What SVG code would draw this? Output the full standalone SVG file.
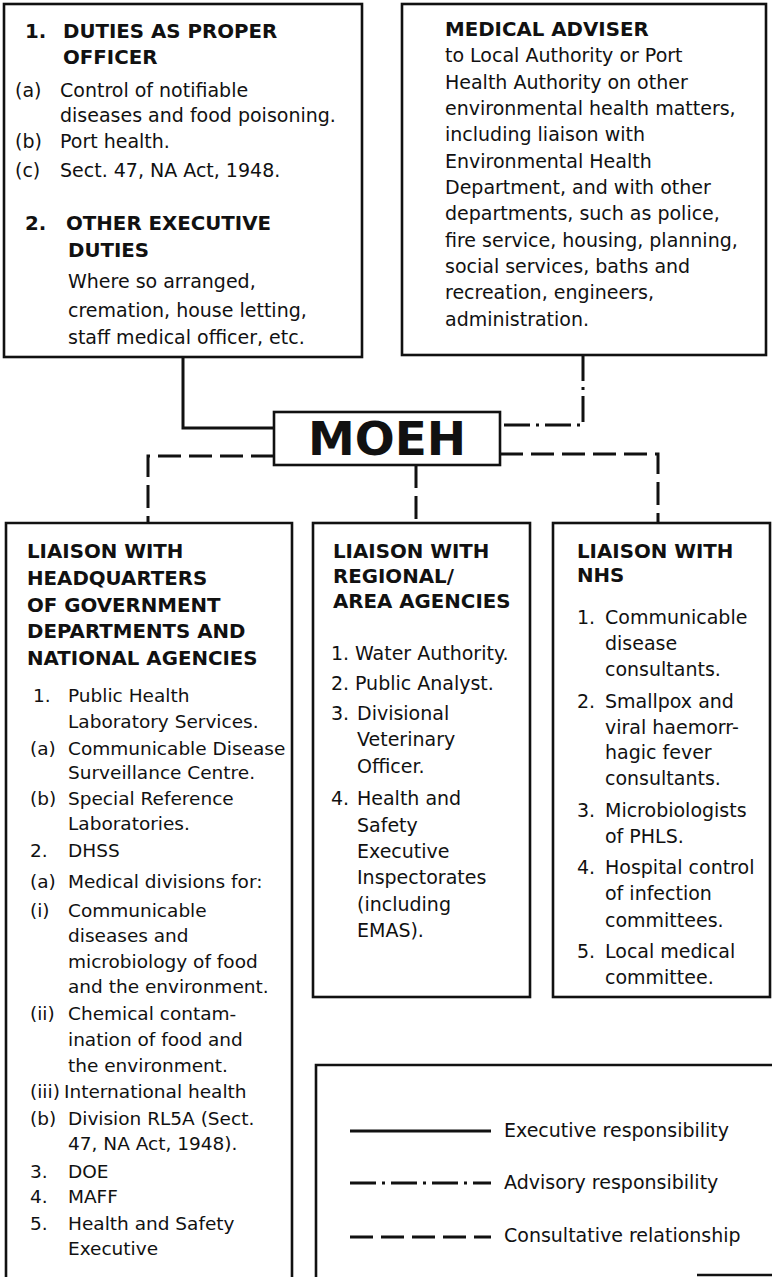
<svg xmlns="http://www.w3.org/2000/svg" width="772" height="1277" viewBox="0 0 772 1277">
<style>
.bg{fill:#fff}
.box{fill:#fff;stroke:#111;stroke-width:2.6}
.open{fill:none;stroke:#111;stroke-width:2.6}
.t{font-family:"DejaVu Sans","Liberation Sans",sans-serif;font-size:19px;fill:#111}
.tl{font-family:"DejaVu Sans","Liberation Sans",sans-serif;font-size:18.5px;fill:#111}
.b{font-family:"DejaVu Sans","Liberation Sans",sans-serif;font-size:19.8px;font-weight:bold;fill:#111}
.big{font-family:"DejaVu Sans","Liberation Sans",sans-serif;font-size:47px;font-weight:bold;fill:#111;text-anchor:middle}
.solid{fill:none;stroke:#111;stroke-width:3}
.dashdot{fill:none;stroke:#111;stroke-width:3;stroke-dasharray:26 6 3 6}
.dashed{fill:none;stroke:#111;stroke-width:3;stroke-dasharray:23 8}
</style>
<rect class="bg" x="0" y="0" width="772" height="1277"/>

<g id="connectors">
<path class="solid" d="M183,357 V428 H274"/>
<path class="dashdot" d="M583,355 V425 H500"/>
<path class="dashed" d="M274,456 H148 V523"/>
<path class="dashed" d="M416,465 V523"/>
<path class="dashed" d="M500,454 H658 V523"/>
</g>

<g id="node-duties">
<rect class="box" x="4" y="4" width="358" height="353"/>
<text class="b" x="25" y="38">1.</text><text class="b" x="63" y="38">DUTIES AS PROPER</text>
<text class="b" x="63" y="64">OFFICER</text>
<text class="t" x="15" y="97">(a)</text><text class="t" x="60" y="97">Control of notifiable</text>
<text class="t" x="60" y="122">diseases and food poisoning.</text>
<text class="t" x="15" y="148">(b)</text><text class="t" x="60" y="148">Port health.</text>
<text class="t" x="15" y="177">(c)</text><text class="t" x="60" y="177">Sect. 47, NA Act, 1948.</text>
<text class="b" x="25" y="230">2.</text><text class="b" x="66" y="230">OTHER EXECUTIVE</text>
<text class="b" x="68" y="257">DUTIES</text>
<text class="t" x="68" y="288">Where so arranged,</text>
<text class="t" x="68" y="317">cremation, house letting,</text>
<text class="t" x="68" y="344">staff medical officer, etc.</text>
</g>

<g id="node-adviser">
<rect class="box" x="402" y="4" width="364" height="351"/>
<text class="b" x="445" y="36">MEDICAL ADVISER</text>
<text class="t" x="445" y="62">to Local Authority or Port</text>
<text class="t" x="445" y="89">Health Authority on other</text>
<text class="t" x="445" y="115">environmental health matters,</text>
<text class="t" x="445" y="141">including liaison with</text>
<text class="t" x="445" y="168">Environmental Health</text>
<text class="t" x="445" y="194">Department, and with other</text>
<text class="t" x="445" y="220">departments, such as police,</text>
<text class="t" x="445" y="247">fire service, housing, planning,</text>
<text class="t" x="445" y="273">social services, baths and</text>
<text class="t" x="445" y="299">recreation, engineers,</text>
<text class="t" x="445" y="326">administration.</text>
</g>

<g id="node-moeh">
<rect class="box" x="274" y="412" width="226" height="53"/>
<text class="big" x="387" y="455">MOEH</text>
</g>

<g id="node-hq">
<path class="open" d="M6,1277 V523 H292 V1277"/>
<text class="b" x="27" y="558">LIAISON WITH</text>
<text class="b" x="27" y="585">HEADQUARTERS</text>
<text class="b" x="27" y="612">OF GOVERNMENT</text>
<text class="b" x="27" y="638">DEPARTMENTS AND</text>
<text class="b" x="27" y="665">NATIONAL AGENCIES</text>
<text class="tl" x="33" y="702">1.</text><text class="tl" x="68" y="702">Public Health</text>
<text class="tl" x="68" y="728">Laboratory Services.</text>
<text class="tl" x="30" y="755">(a)</text><text class="tl" x="68" y="755">Communicable Disease</text>
<text class="tl" x="68" y="779">Surveillance Centre.</text>
<text class="tl" x="30" y="805">(b)</text><text class="tl" x="68" y="805">Special Reference</text>
<text class="tl" x="68" y="830">Laboratories.</text>
<text class="tl" x="30" y="857">2.</text><text class="tl" x="68" y="857">DHSS</text>
<text class="tl" x="30" y="888">(a)</text><text class="tl" x="68" y="888">Medical divisions for:</text>
<text class="tl" x="30" y="917">(i)</text><text class="tl" x="68" y="917">Communicable</text>
<text class="tl" x="68" y="942">diseases and</text>
<text class="tl" x="68" y="968">microbiology of food</text>
<text class="tl" x="68" y="993">and the environment.</text>
<text class="tl" x="30" y="1020">(ii)</text><text class="tl" x="68" y="1020">Chemical contam-</text>
<text class="tl" x="68" y="1046">ination of food and</text>
<text class="tl" x="68" y="1072">the environment.</text>
<text class="tl" x="30" y="1098">(iii)</text><text class="tl" x="64" y="1098">International health</text>
<text class="tl" x="30" y="1125">(b)</text><text class="tl" x="68" y="1125">Division RL5A (Sect.</text>
<text class="tl" x="68" y="1150">47, NA Act, 1948).</text>
<text class="tl" x="30" y="1178">3.</text><text class="tl" x="68" y="1178">DOE</text>
<text class="tl" x="30" y="1203">4.</text><text class="tl" x="68" y="1203">MAFF</text>
<text class="tl" x="30" y="1230">5.</text><text class="tl" x="68" y="1230">Health and Safety</text>
<text class="tl" x="68" y="1255">Executive</text>
</g>

<g id="node-regional">
<rect class="box" x="313" y="523" width="217" height="474"/>
<text class="b" x="333" y="558">LIAISON WITH</text>
<text class="b" x="333" y="583">REGIONAL/</text>
<text class="b" x="333" y="608">AREA AGENCIES</text>
<text class="t" x="331" y="660">1.</text><text class="t" x="355" y="660">Water Authority.</text>
<text class="t" x="331" y="690">2.</text><text class="t" x="355" y="690">Public Analyst.</text>
<text class="t" x="331" y="720">3.</text><text class="t" x="357" y="720">Divisional</text>
<text class="t" x="357" y="746">Veterinary</text>
<text class="t" x="357" y="773">Officer.</text>
<text class="t" x="331" y="805">4.</text><text class="t" x="357" y="805">Health and</text>
<text class="t" x="357" y="832">Safety</text>
<text class="t" x="357" y="858">Executive</text>
<text class="t" x="357" y="884">Inspectorates</text>
<text class="t" x="357" y="911">(including</text>
<text class="t" x="357" y="937">EMAS).</text>
</g>

<g id="node-nhs">
<rect class="box" x="553" y="523" width="217" height="474"/>
<text class="b" x="577" y="558">LIAISON WITH</text>
<text class="b" x="577" y="582">NHS</text>
<text class="t" x="577" y="624">1.</text><text class="t" x="605" y="624">Communicable</text>
<text class="t" x="605" y="650">disease</text>
<text class="t" x="605" y="676">consultants.</text>
<text class="t" x="577" y="708">2.</text><text class="t" x="605" y="708">Smallpox and</text>
<text class="t" x="605" y="734">viral haemorr-</text>
<text class="t" x="605" y="759">hagic fever</text>
<text class="t" x="605" y="785">consultants.</text>
<text class="t" x="577" y="817">3.</text><text class="t" x="605" y="817">Microbiologists</text>
<text class="t" x="605" y="843">of PHLS.</text>
<text class="t" x="577" y="874">4.</text><text class="t" x="605" y="874">Hospital control</text>
<text class="t" x="605" y="900">of infection</text>
<text class="t" x="605" y="927">committees.</text>
<text class="t" x="577" y="958">5.</text><text class="t" x="605" y="958">Local medical</text>
<text class="t" x="605" y="984">committee.</text>
</g>

<g id="legend">
<path class="open" d="M316,1277 V1065 H772"/>
<path class="open" d="M697,1275 H772"/>
<path class="solid" d="M350,1131 H491"/>
<path class="dashdot" d="M350,1183 H491"/>
<path class="dashed" d="M350,1237 H491"/>
<text class="t" x="504" y="1137">Executive responsibility</text>
<text class="t" x="504" y="1189">Advisory responsibility</text>
<text class="t" x="504" y="1242">Consultative relationship</text>
</g>
</svg>
